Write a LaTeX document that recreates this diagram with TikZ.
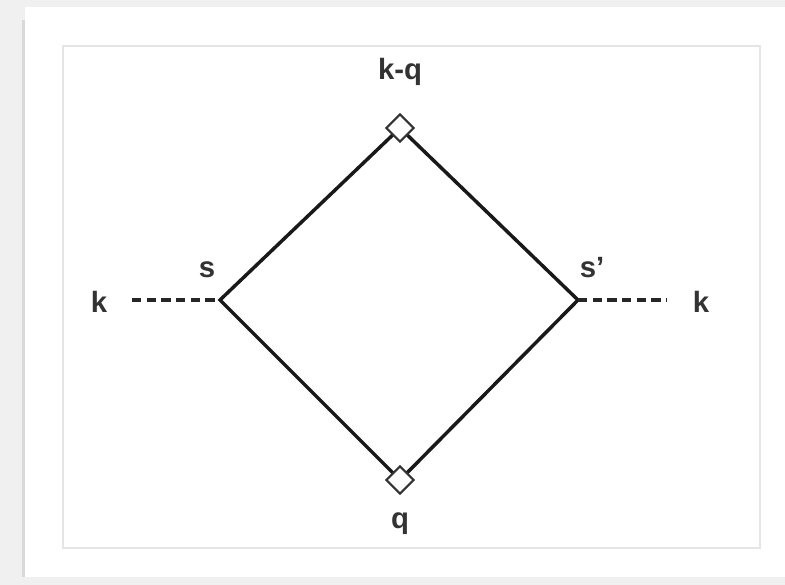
\documentclass[tikz,border=0pt]{standalone}
\usepackage{fontspec}
\setmainfont{Liberation Sans}
\usetikzlibrary{shapes.geometric}
\begin{document}
\begin{tikzpicture}[x=0.75pt,y=-0.75pt,
  lbl/.style={font=\fontsize{22}{26}\selectfont\bfseries, text=black!80, inner sep=0pt},
  edge/.style={line width=2.6pt, black!90},
  dash line/.style={line width=2.8pt, black!85, dash pattern=on 7pt off 4pt},
  vert/.style={diamond, draw=black!80, fill=white, line width=1.6pt, minimum width=21pt, minimum height=21pt, inner sep=0pt}]
\useasboundingbox (0,0) rectangle (785,585);
\fill[gray!12] (0,0) rectangle (785,585);
\fill[white] (25,7) rectangle (785,577);
\fill[gray!30] (22,20) rectangle (25,577);
\draw[gray!20, line width=1.5pt, fill=white] (63,46) rectangle (760,548);
% vertices
\coordinate (L) at (220,300);
\coordinate (R) at (578,300);
\coordinate (T) at (400,128);
\coordinate (B) at (400,480);
\coordinate (kl) at (132,300);
\coordinate (kr) at (667,300);
\draw[edge] (T) -- (L) -- (B) -- (R) -- cycle;
\draw[dash line] (kl) -- (L);
\draw[dash line] (R) -- (kr);
\node[vert] (td) at (T) {};
\node[vert] (bd) at (B) {};
% labels
\node[lbl] (lk) at (99,302) {k};
\node[lbl] (ls) at (207,270) {s};
\node[lbl] (lsp) at (592,268) {s\char"0027};
\node[lbl] (rk) at (701,302) {k};
\node[lbl] (lkq) at (400,72) {k-q};
\node[lbl] (lq) at (400,524) {q};
\end{tikzpicture}
\end{document}
